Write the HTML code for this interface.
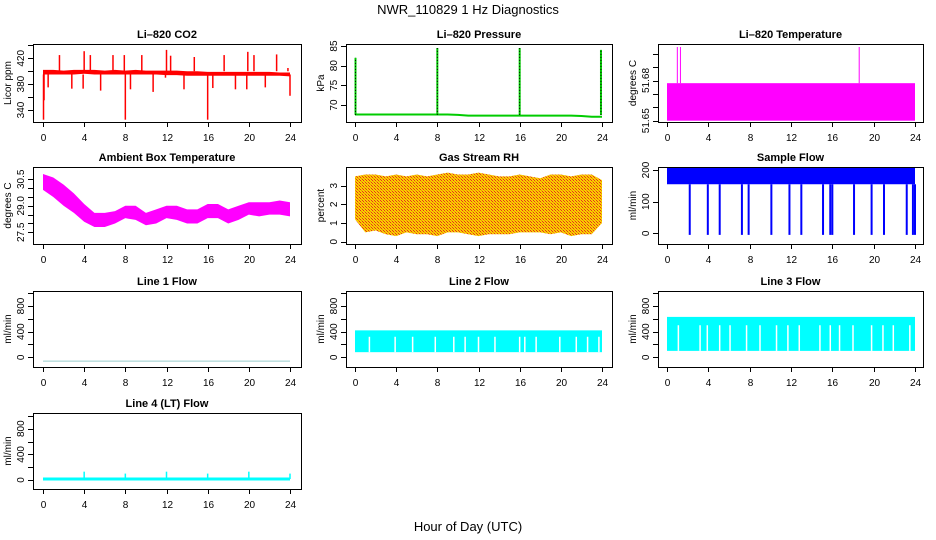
<!DOCTYPE html>
<html><head><meta charset="utf-8"><style>
html,body{margin:0;padding:0;background:#fff;}
svg{display:block;font-family:"Liberation Sans",Arial,sans-serif;}
</style></head><body>
<svg id="c" width="936" height="540" viewBox="0 0 936 540">
<defs>
<pattern id="rhpat" width="3" height="3" patternUnits="userSpaceOnUse">
<rect width="3" height="3" fill="#f8d000"/><rect width="1" height="1" fill="#e8301c"/><rect x="1" y="1" width="1" height="1" fill="#f09000"/><rect x="2" y="2" width="1" height="1" fill="#e8301c"/>
</pattern>
</defs>
<text x="468" y="14" text-anchor="middle" font-size="13">NWR_110829  1 Hz Diagnostics</text>
<text x="468" y="531" text-anchor="middle" font-size="13">Hour of Day (UTC)</text>
</svg>
<script>
// ---------- data ----------
const xTicks = [0,4,8,12,16,20,24];
const hours = [0,1,2,3,4,5,6,7,8,9,10,11,12,13,14,15,16,17,18,19,20,21,22,23,24];

const co2Hi = [402,402,401,402,402,402,401,402,401,402,401,401,401,401,400,400,399,399,399,399,399,399,399,398,398];
const co2Lo = [395,395,395,395,396,395,395,395,395,395,395,395,394,394,393,393,393,393,393,393,393,393,393,393,392];
const co2SpikeHours = [0.05,0.1,0.5,1.6,2.8,3.9,4.0,4.6,5.6,6.8,7.9,8.0,8.5,9.6,10.7,11.9,12.0,12.4,13.7,14.7,16.0,16.5,17.6,18.7,19.8,19.9,20.5,21.6,22.7,23.8,24.0];
const co2SpikeVals  = [325,355,375,425,373,373,431,425,370,425,425,325,372,425,368,390,433,424,372,422,325,374,425,372,372,430,425,375,426,405,362];

const presBase = [67.6,67.6,67.6,67.6,67.6,67.6,67.6,67.6,67.6,67.6,67.5,67.3,67.3,67.3,67.3,67.3,67.3,67.3,67.3,67.3,67.3,67.3,67.2,67.0,67.0];
const presSpikeHours = [0.05,8.0,16.0,23.9];
const presSpikeVals  = [82,84.5,84.5,84];

const tempLo = 51.65;
const tempHi = 51.678;
const tempSpikeHours = [1.0,1.3,18.6];
const tempSpikeVals  = [51.705,51.705,51.705];

const ambHi = [30.8,30.6,30.2,29.7,29.1,28.6,28.6,28.7,29.0,29.0,28.6,28.8,29.0,29.0,28.8,28.8,29.1,29.1,28.8,29.0,29.2,29.2,29.2,29.3,29.2];
const ambLo = [29.9,29.5,29.0,28.6,28.1,27.8,27.8,28.0,28.3,28.2,27.9,28.0,28.3,28.2,28.0,28.0,28.3,28.3,28.0,28.2,28.5,28.4,28.5,28.5,28.4];

const rhHi = [3.5,3.6,3.6,3.5,3.6,3.5,3.6,3.5,3.6,3.7,3.6,3.6,3.7,3.6,3.5,3.5,3.6,3.5,3.4,3.6,3.6,3.5,3.6,3.6,3.3];
const rhLo = [1.2,0.5,0.6,0.4,0.3,0.5,0.4,0.4,0.3,0.5,0.5,0.4,0.3,0.4,0.4,0.4,0.5,0.5,0.5,0.4,0.5,0.3,0.4,0.4,1.0];

const sampleHi = 209, sampleLo = 155;
const sampleDropHours = [2.2,3.95,5.1,7.25,7.9,10.1,11.85,13.0,15.1,15.8,16.0,18.1,19.8,21.0,23.2,23.8,24.0];
const sampleDropVal = -5;

const line1Val = -60;

const line2Hi = 420, line2Lo = 80;
const line2Gaps = [1.4,3.9,5.6,7.8,9.6,10.7,12.0,13.6,16.0,16.5,17.6,19.9,21.5,22.6,23.7];

const line3Hi = 630, line3Lo = 100;
const line3Gaps = [1.1,3.2,3.9,5.1,6.1,7.7,9.0,10.6,11.7,12.8,14.8,15.8,16.7,18.0,19.8,20.9,21.9,23.5];

const line4Base = 15;
const line4SpikeHours = [4,8,12,16,20,24];
const line4SpikeVals  = [130,100,130,100,130,100];

// ---------- layout ----------
const NS='http://www.w3.org/2000/svg';
const svg=document.getElementById('c');
const boxL=[33,346,658], boxR=[301,612,923], x0p=[43,355,667], x24p=[290,602,915];
const boxT=[44,167,291,413], boxB=[122,244,367,489];
function mk(tag,attrs,parent){const e=document.createElementNS(NS,tag);for(const k in attrs)e.setAttribute(k,attrs[k]);(parent||svg).appendChild(e);return e;}

function panel(o){
  const g=mk('g',{});
  
  
  const c=o.col,r=o.row;
  const xs=h=>x0p[c]+(x24p[c]-x0p[c])*h/24;
  const ys=v=>o.py1+(v-o.v1)*(o.py2-o.py1)/(o.v2-o.v1);
  const clipId='clip'+c+r;
  const cp=mk('clipPath',{id:clipId},g);
  mk('rect',{x:boxL[c],y:boxT[r],width:boxR[c]-boxL[c],height:boxB[r]-boxT[r]},cp);
  const data=mk('g',{'clip-path':'url(#'+clipId+')'},g);
  
  
  o.draw(data,xs,ys);
  const box=mk('rect',{x:boxL[c]+0.5,y:boxT[r]+0.5,width:boxR[c]-boxL[c],height:boxB[r]-boxT[r],fill:'none',stroke:'#000','stroke-width':1},g);
  
  
  const t=mk('text',{x:(boxL[c]+boxR[c])/2,y:boxT[r]-6,'text-anchor':'middle','font-size':11,'font-weight':'bold'},g);
  t.textContent=o.title;
  
  
  const xa=mk('g',{},g);
  
  
  mk('line',{x1:xs(0),x2:xs(24),y1:boxB[r]+0.5,y2:boxB[r]+0.5,stroke:'#000'},xa);
  xTicks.forEach(h=>{
    const X=Math.round(xs(h))+0.5;
    mk('line',{x1:X,x2:X,y1:boxB[r],y2:boxB[r]+5,stroke:'#000'},xa);
    const l=mk('text',{x:X,y:boxB[r]+19,'text-anchor':'middle','font-size':10},xa);
    l.textContent=h;
    
    
  });
  const ya=mk('g',{},g);
  
  
  o.yTicks.forEach(v=>{
    const Y=Math.round(ys(v))+0.5;
    mk('line',{x1:boxL[c]-5,x2:boxL[c],y1:Y,y2:Y,stroke:'#000'},ya);
  });
  o.yLabels.forEach((v,i)=>{
    const Y=ys(v);const X=boxL[c]-9;
    const l=mk('text',{x:X,y:Y,'text-anchor':'middle','font-size':10,transform:'rotate(-90 '+X+' '+Y+')'},ya);
    l.textContent=o.yLabelText?o.yLabelText[i]:v;
    
    
  });
  const yl=(boxT[r]+boxB[r])/2, xl=boxL[c]-22;
  const lab=mk('text',{x:xl,y:yl,'text-anchor':'middle','font-size':10,transform:'rotate(-90 '+xl+' '+yl+')'},g);
  lab.textContent=o.ylab;
  
  
}
function band(p,xs,ys,hi,lo,fill){
  let pts=hours.map((h,i)=>xs(h)+','+ys(hi[i]));
  pts=pts.concat(hours.slice().reverse().map((h,j)=>xs(h)+','+ys(lo[hours.length-1-j])));
  return mk('polygon',{points:pts.join(' '),fill:fill},p);
}
function vline(p,xs,ys,h,v1,v2,col,w){
  return mk('line',{x1:xs(h),x2:xs(h),y1:ys(v1),y2:ys(v2),stroke:col,'stroke-width':w||1},p);
}

panel({name:'co2-panel',col:0,row:0,title:'Li\u2013820 CO2',ylab:'Licor ppm',v1:340,py1:110,v2:420,py2:58.3,
 yTicks:[340,360,380,400,420,440],yLabels:[340,380,420],
 draw:(p,xs,ys)=>{
  const b=band(p,xs,ys,co2Hi,co2Lo,'#ff0000');
  
  co2SpikeHours.forEach((h,i)=>{const base=co2SpikeVals[i]>398?400:395;const l=vline(p,xs,ys,h,base,co2SpikeVals[i],'#ff0000',1.5);
   });
 }});
panel({name:'pressure-panel',col:1,row:0,title:'Li\u2013820 Pressure',ylab:'kPa',v1:70,py1:105,v2:85,py2:46,
 yTicks:[70,75,80,85],yLabels:[70,75,80,85],
 draw:(p,xs,ys)=>{
  const pl=mk('polyline',{points:hours.map((h,i)=>xs(h)+','+ys(presBase[i])).join(' '),fill:'none',stroke:'#00cc00','stroke-width':2},p);
  
  presSpikeHours.forEach((h,i)=>{const l=vline(p,xs,ys,h,67.5,presSpikeVals[i],'#00cc00',2);
   
   mk('line',{x1:xs(h),x2:xs(h),y1:ys(67.5),y2:ys(presSpikeVals[i]),stroke:'#000','stroke-dasharray':'1 2'},p);});
 }});
panel({name:'licor-temp-panel',col:2,row:0,title:'Li\u2013820 Temperature',ylab:'degrees C',v1:51.65,py1:120.7,v2:51.68,py2:80.5,
 yTicks:[51.65,51.66,51.67,51.68,51.69,51.70],yLabels:[51.65,51.68],yLabelText:['51.65','51.68'],
 draw:(p,xs,ys)=>{
  const r=mk('rect',{x:xs(0),y:ys(tempHi),width:xs(24)-xs(0),height:ys(tempLo)-ys(tempHi),fill:'#ff00ff'},p);
  
  tempSpikeHours.forEach((h,i)=>{const l=vline(p,xs,ys,h,tempHi,tempSpikeVals[i],'#ff00ff',1);
   });
 }});
panel({name:'ambient-temp-panel',col:0,row:1,title:'Ambient Box Temperature',ylab:'degrees C',v1:27.5,py1:232.3,v2:30.5,py2:179.3,
 yTicks:[27.5,28,28.5,29,29.5,30,30.5],yLabels:[27.5,29.0,30.5],yLabelText:['27.5','29.0','30.5'],
 draw:(p,xs,ys)=>{const b=band(p,xs,ys,ambHi,ambLo,'#ff00ff');}});
panel({name:'rh-panel',col:1,row:1,title:'Gas Stream RH',ylab:'percent',v1:0,py1:241.7,v2:3,py2:185.7,
 yTicks:[0,1,2,3],yLabels:[0,1,2,3],
 draw:(p,xs,ys)=>{const b=band(p,xs,ys,rhHi,rhLo,'url(#rhpat)');}});
panel({name:'sample-flow-panel',col:2,row:1,title:'Sample Flow',ylab:'ml/min',v1:0,py1:233.3,v2:200,py2:170,
 yTicks:[0,100,200],yLabels:[0,100,200],
 draw:(p,xs,ys)=>{
  const r=mk('rect',{x:xs(0),y:ys(sampleHi),width:xs(24)-xs(0),height:ys(sampleLo)-ys(sampleHi),fill:'#0000ff'},p);
  
  sampleDropHours.forEach(h=>{const l=vline(p,xs,ys,h,sampleLo,sampleDropVal,'#0000ff',2);
   });
 }});
panel({name:'line1-flow-panel',col:0,row:2,title:'Line 1 Flow',ylab:'ml/min',v1:0,py1:357.3,v2:800,py2:306,
 yTicks:[0,200,400,600,800,1000],yLabels:[0,400,800],
 draw:(p,xs,ys)=>{const l=mk('line',{x1:xs(0),x2:xs(24),y1:ys(line1Val),y2:ys(line1Val),stroke:'#9cc','stroke-width':1},p);
  }});
panel({name:'line2-flow-panel',col:1,row:2,title:'Line 2 Flow',ylab:'ml/min',v1:0,py1:357.3,v2:800,py2:306,
 yTicks:[0,200,400,600,800,1000],yLabels:[0,400,800],
 draw:(p,xs,ys)=>{
  const r=mk('rect',{x:xs(0),y:ys(line2Hi),width:xs(24)-xs(0),height:ys(line2Lo)-ys(line2Hi),fill:'#00ffff'},p);
  
  line2Gaps.forEach(h=>{const l=vline(p,xs,ys,h,line2Lo,line2Hi-100,'#fff',1.5);});
 }});
panel({name:'line3-flow-panel',col:2,row:2,title:'Line 3 Flow',ylab:'ml/min',v1:0,py1:357.3,v2:800,py2:306,
 yTicks:[0,200,400,600,800,1000],yLabels:[0,400,800],
 draw:(p,xs,ys)=>{
  const r=mk('rect',{x:xs(0),y:ys(line3Hi),width:xs(24)-xs(0),height:ys(line3Lo)-ys(line3Hi),fill:'#00ffff'},p);
  
  line3Gaps.forEach(h=>{const l=vline(p,xs,ys,h,line3Lo,line3Hi-130,'#fff',1.5);});
 }});
panel({name:'line4-flow-panel',col:0,row:3,title:'Line 4 (LT) Flow',ylab:'ml/min',v1:0,py1:480,v2:800,py2:428.7,
 yTicks:[0,200,400,600,800,1000],yLabels:[0,400,800],
 draw:(p,xs,ys)=>{
  const l=mk('line',{x1:xs(0),x2:xs(24),y1:ys(line4Base),y2:ys(line4Base),stroke:'#00ffff','stroke-width':3},p);
  
  line4SpikeHours.forEach((h,i)=>{const s=vline(p,xs,ys,h,line4Base,line4SpikeVals[i],'#00ffff',1.5);});
 }});
</script>
</body></html>
